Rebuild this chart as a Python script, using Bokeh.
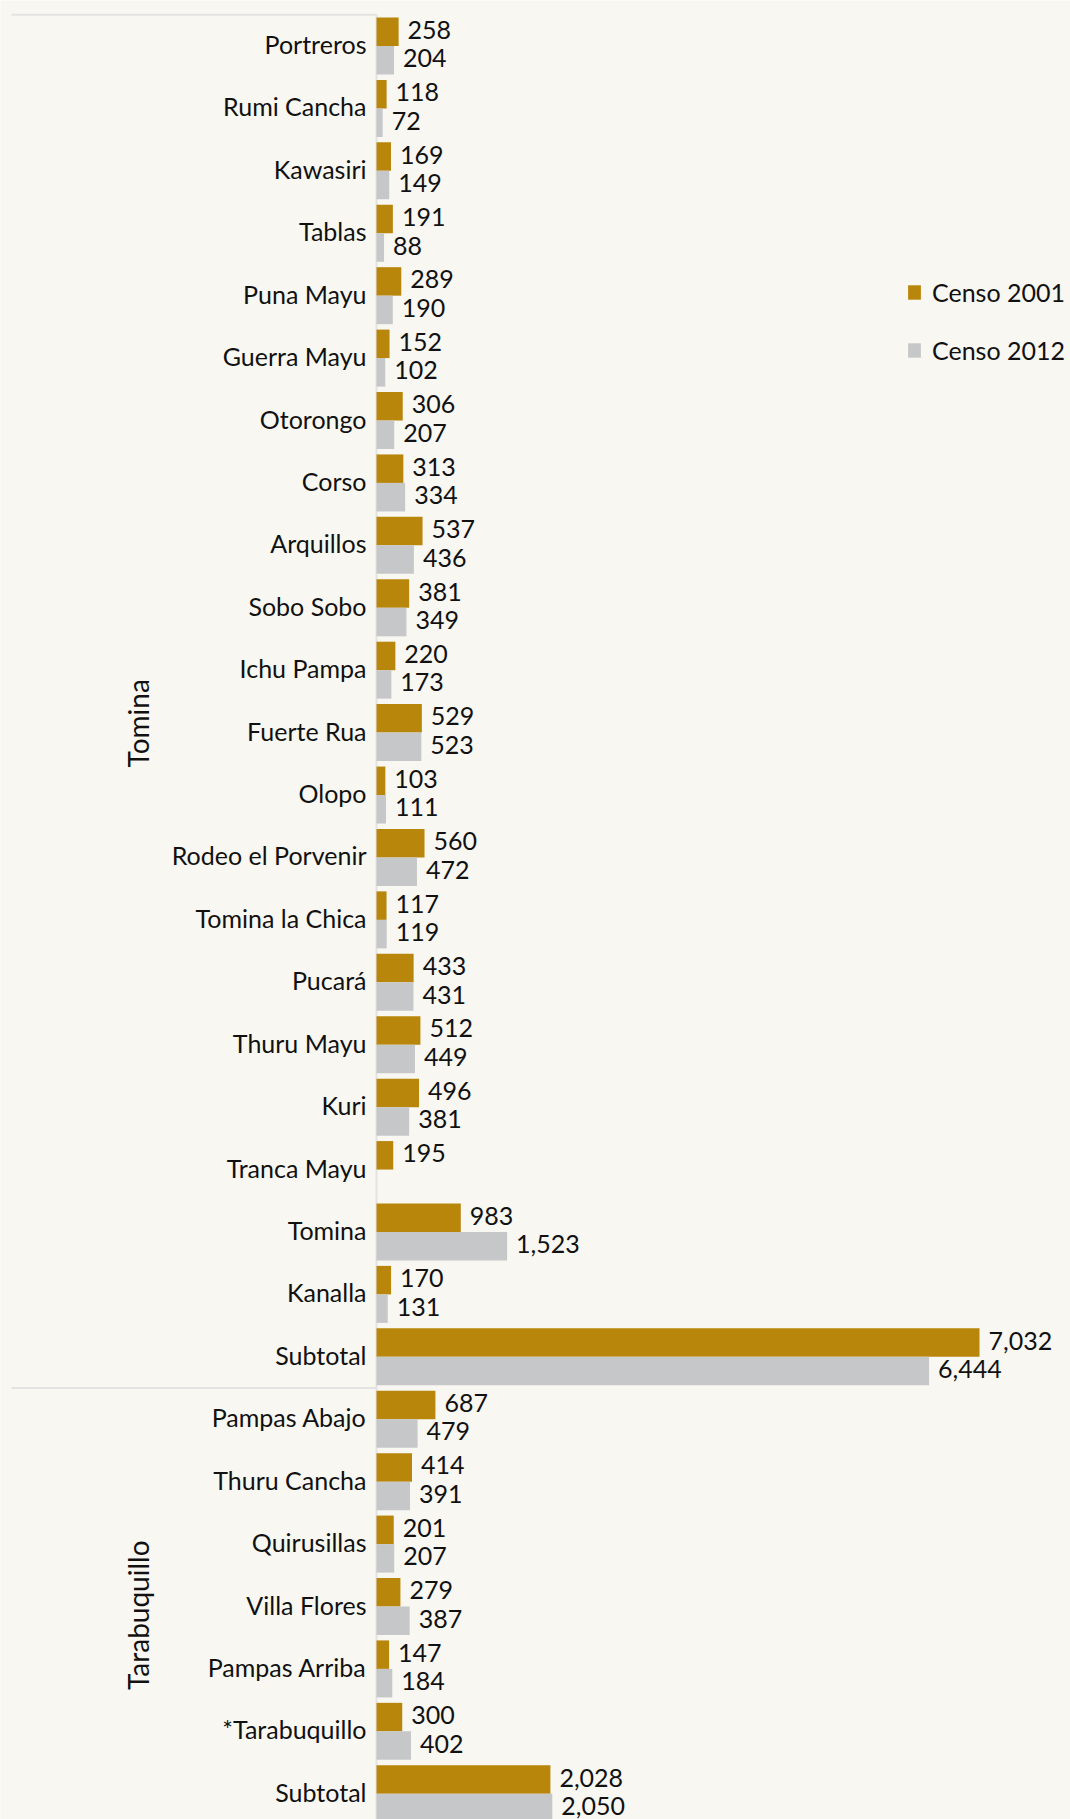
import math
from bokeh.plotting import figure
from bokeh.models import ColumnDataSource, Range1d, Legend, LegendItem
from bokeh.core.properties import value
from bokeh.embed import file_html
from bokeh.resources import INLINE

# ---------------- data ----------------
group_names = ["Tomina", "Tarabuquillo"]

tomina_names = ["Portreros", "Rumi Cancha", "Kawasiri", "Tablas", "Puna Mayu", "Guerra Mayu",
                "Otorongo", "Corso", "Arquillos", "Sobo Sobo", "Ichu Pampa", "Fuerte Rua",
                "Olopo", "Rodeo el Porvenir", "Tomina la Chica", "Pucará", "Thuru Mayu",
                "Kuri", "Tranca Mayu", "Tomina", "Kanalla", "Subtotal"]
tomina_2001 = [258, 118, 169, 191, 289, 152, 306, 313, 537, 381, 220, 529,
               103, 560, 117, 433, 512, 496, 195, 983, 170, 7032]
tomina_2012 = [204, 72, 149, 88, 190, 102, 207, 334, 436, 349, 173, 523,
               111, 472, 119, 431, 449, 381, None, 1523, 131, 6444]

tara_names = ["Pampas Abajo", "Thuru Cancha", "Quirusillas", "Villa Flores",
              "Pampas Arriba", "*Tarabuquillo", "Subtotal"]
tara_2001 = [687, 414, 201, 279, 147, 300, 2028]
tara_2012 = [479, 391, 207, 387, 184, 402, 2050]

series_names = ["Censo 2001", "Censo 2012"]

# ---------------- style ----------------
BG = "#F8F7F2"
GOLD = "#B8860B"
GRAY = "#C6C7C9"
RULE = "#E3E3E1"
TXT = "#111111"
FONT = "Lato"
FS = "25px"
GFS = "28px"

W, H = 1070, 1819
PX_PER_UNIT = 0.08575          # horizontal pixels per person
ZERO_PX = 376                  # distance of value 0 from frame left
BAND_PX = 62.42                # pixels per category
FIRST_CENTER_PX = 45.5         # first category center from frame top

x0 = -ZERO_PX / PX_PER_UNIT
x1 = x0 + W / PX_PER_UNIT
y_top = -FIRST_CENTER_PX / BAND_PX
y_bot = y_top + H / BAND_PX

names = tomina_names + tara_names
v2001 = tomina_2001 + tara_2001
v2012 = tomina_2012 + tara_2012
ys = list(range(len(names)))

BAR_H = 0.4566
OFF = BAR_H / 2

src01 = ColumnDataSource(dict(y=[y - OFF for y in ys], v=v2001,
                              lab=[f"{v:,}" for v in v2001]))
ys12 = [y + OFF for y, v in zip(ys, v2012) if v is not None]
vv12 = [v for v in v2012 if v is not None]
src12 = ColumnDataSource(dict(y=ys12, v=vv12, lab=[f"{v:,}" for v in vv12]))

p = figure(width=W, height=H, output_backend="svg", toolbar_location=None,
           x_range=Range1d(x0, x1), y_range=Range1d(y_bot, y_top),
           min_border=0, min_border_left=0, min_border_right=0,
           min_border_top=0, min_border_bottom=0)
p.background_fill_color = BG
p.border_fill_color = BG
p.outline_line_color = None
p.xaxis.visible = False
p.yaxis.visible = False
p.xgrid.visible = False
p.ygrid.visible = False

# separator lines and axis line
n_t = len(tomina_names)
sep_left = x0 + 11 / PX_PER_UNIT
p.segment(x0=[sep_left, sep_left], y0=[-0.5, n_t - 0.5], x1=[0, 0], y1=[-0.5, n_t - 0.5],
          line_color=RULE, line_width=2)
p.segment(x0=[0], y0=[-0.5], x1=[0], y1=[y_bot], line_color=RULE, line_width=2)

r1 = p.hbar(y="y", left=0, right="v", height=BAR_H, source=src01,
            fill_color=GOLD, line_color=None)
r2 = p.hbar(y="y", left=0, right="v", height=BAR_H, source=src12,
            fill_color=GRAY, line_color=None)

# value labels
for s in (src01, src12):
    p.text(x="v", y="y", text="lab", source=s, x_offset=9, y_offset=-2,
           text_font=value(FONT), text_font_size=FS, text_color=TXT,
           text_align="left", text_baseline="middle")

# category labels
p.text(x=[0] * len(names), y=ys, text=names, x_offset=-10, y_offset=-2,
       text_font=value(FONT), text_font_size=FS, text_color=TXT,
       text_align="right", text_baseline="middle")

# group labels (rotated)
gx = -(ZERO_PX - 137) / PX_PER_UNIT
p.text(x=[gx, gx], y=[10.85, 25.14], text=group_names, angle=math.pi / 2,
       text_font=value(FONT), text_font_size=GFS, text_color=TXT,
       text_align="center", text_baseline="middle")

legend = Legend(items=[LegendItem(label=series_names[0], renderers=[r1]),
                       LegendItem(label=series_names[1], renderers=[r2])],
                location=(906, H - 365), orientation="vertical",
                glyph_width=16, glyph_height=18, label_height=18,
                label_standoff=10, spacing=28, padding=0, margin=0,
                border_line_color=None, background_fill_alpha=0,
                label_text_font=FONT, label_text_font_size=FS,
                label_text_color=TXT)
p.add_layout(legend)

open("out.html", "w").write(file_html(p, INLINE))
